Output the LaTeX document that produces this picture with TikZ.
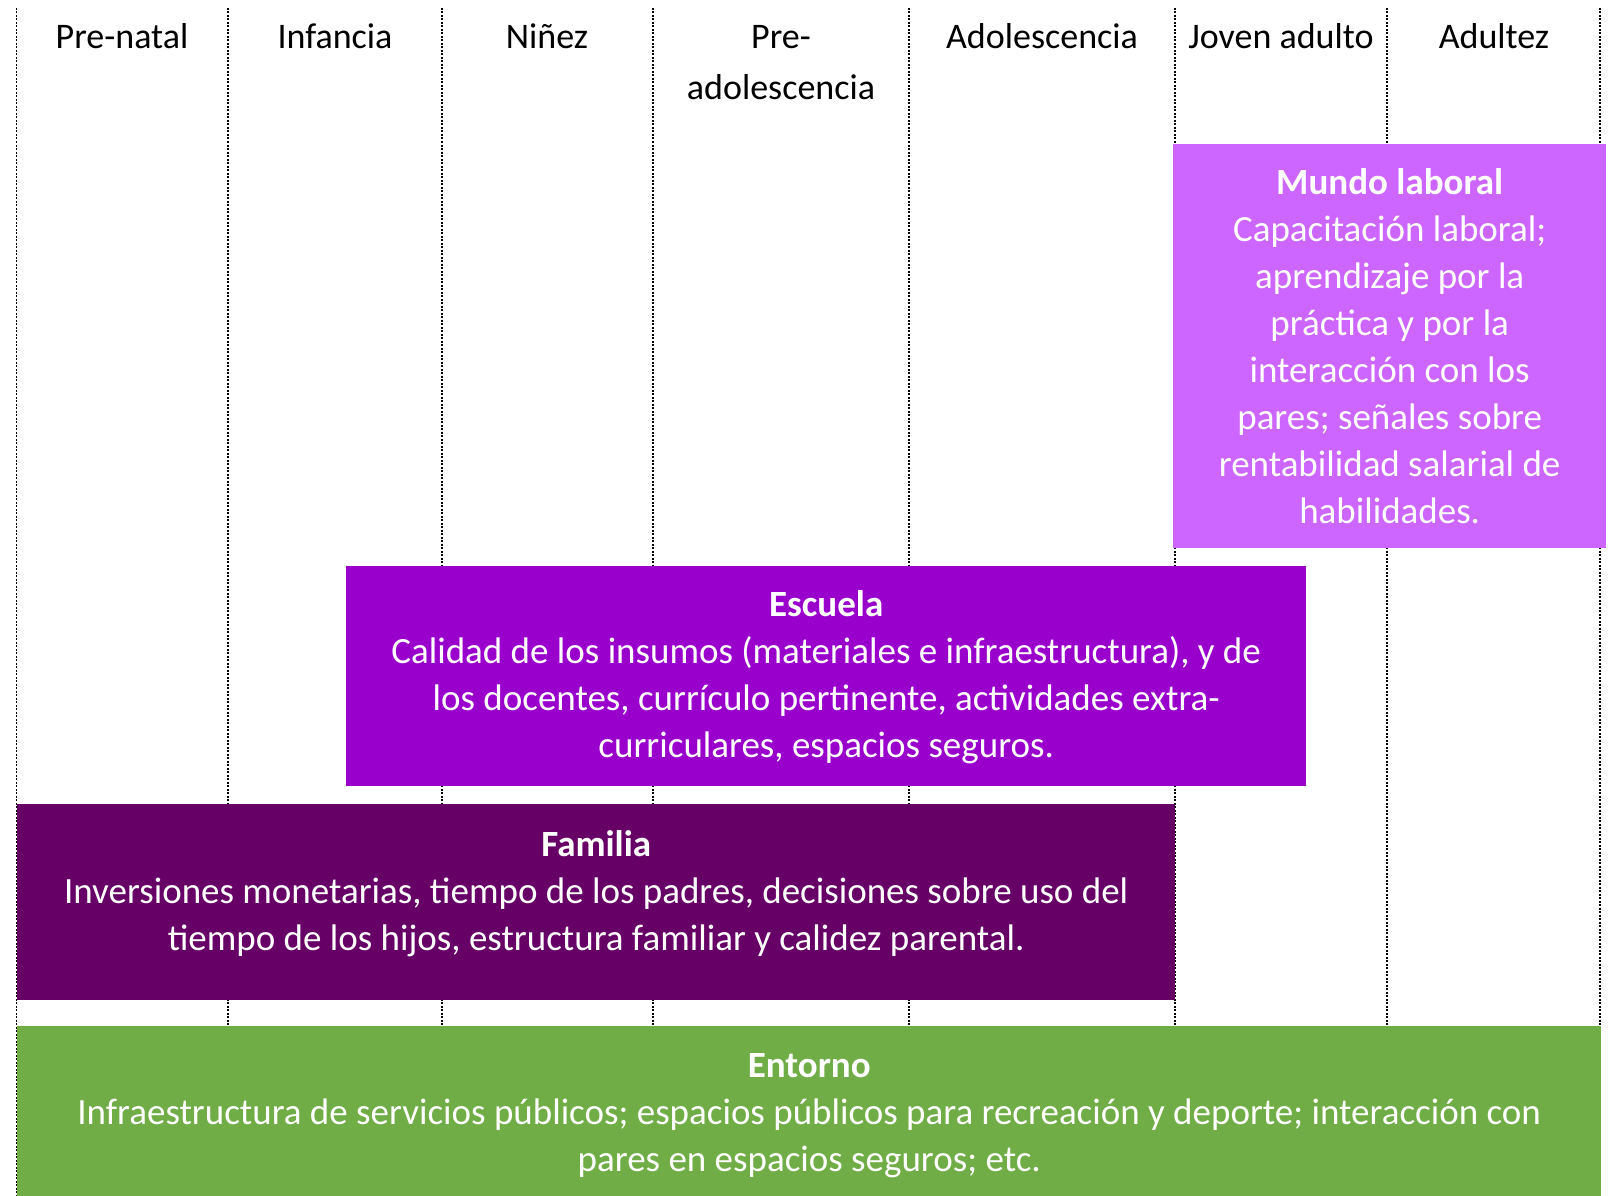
\documentclass[tikz,border=0pt]{standalone}
\usepackage{fontspec}
\setmainfont{Carlito}
\usetikzlibrary{positioning}

\definecolor{mundocol}{HTML}{CC66FF}
\definecolor{escuelacol}{HTML}{9900CC}
\definecolor{familiacol}{HTML}{660066}
\definecolor{entornocol}{HTML}{70AD47}

\tikzset{
  stage/.style={font=\fontsize{36}{47}\selectfont, align=center, inner sep=0pt},
  area/.style={inner sep=0pt, anchor=north west},
  areatext/.style={font=\fontsize{37}{47}\selectfont, text=white, align=center,
                   inner sep=0pt},
  divider/.style={dash pattern=on 2pt off 1.5pt, line width=1.2pt},
}

\begin{document}
\begin{tikzpicture}[x=1pt,y=-1pt]
  \useasboundingbox (0,0) rectangle (1611,1196);

  % dividers between the stages
  \draw[divider] (16.5,8) -- (16.5,1196);
  \foreach \x in {228,442,653,909,1175,1387,1600}
    \draw[divider] (\x,8) -- (\x,1026);

  % stages
  \node[stage] (prenatal)     at (122,36)  {Pre-natal};
  \node[stage] (infancia)     at (335,36)  {Infancia};
  \node[stage] (ninez)        at (547,36)  {Niñez};
  \node[stage] (preadol)      at (781,63)  {Pre-\\[4pt]adolescencia};
  \node[stage] (adolescencia) at (1042,36) {Adolescencia};
  \node[stage] (joven)        at (1281,36) {Joven adulto};
  \node[stage] (adultez)      at (1494,36) {Adultez};

  % areas
  \node[area, fill=mundocol, minimum width=433, minimum height=404]
    (mundo) at (1173,144) {};
  \node[area, fill=escuelacol, minimum width=960, minimum height=220]
    (escuela) at (346,566) {};
  \node[area, fill=familiacol, minimum width=1158, minimum height=196]
    (familia) at (17,804) {};
  \node[area, fill=entornocol, minimum width=1584, minimum height=170]
    (entorno) at (17,1026) {};

  \node[areatext] (mundotext) at (mundo.center)
    {\textbf{Mundo laboral}\\Capacitación laboral;\\aprendizaje por la\\
     práctica y por la\\interacción con los\\pares; señales sobre\\
     rentabilidad salarial de\\habilidades.};
  \node[areatext] (escuelatext) at ([yshift=-1pt]escuela.center)
    {\textbf{Escuela}\\Calidad de los insumos (materiales e infraestructura), y de\\
     los docentes, currículo pertinente, actividades extra-\\
     curriculares, espacios seguros.};
  \node[areatext] (familiatext) at ([yshift=9pt]familia.center)
    {\textbf{Familia}\\Inversiones monetarias, tiempo de los padres, decisiones sobre uso del\\
     tiempo de los hijos, estructura familiar y calidez parental.};
  \node[areatext] (entornotext) at ([yshift=-4pt]entorno.center)
    {\textbf{Entorno}\\Infraestructura de servicios públicos; espacios públicos para recreación y deporte; interacción con\\
     pares en espacios seguros; etc.};
\end{tikzpicture}
\end{document}
